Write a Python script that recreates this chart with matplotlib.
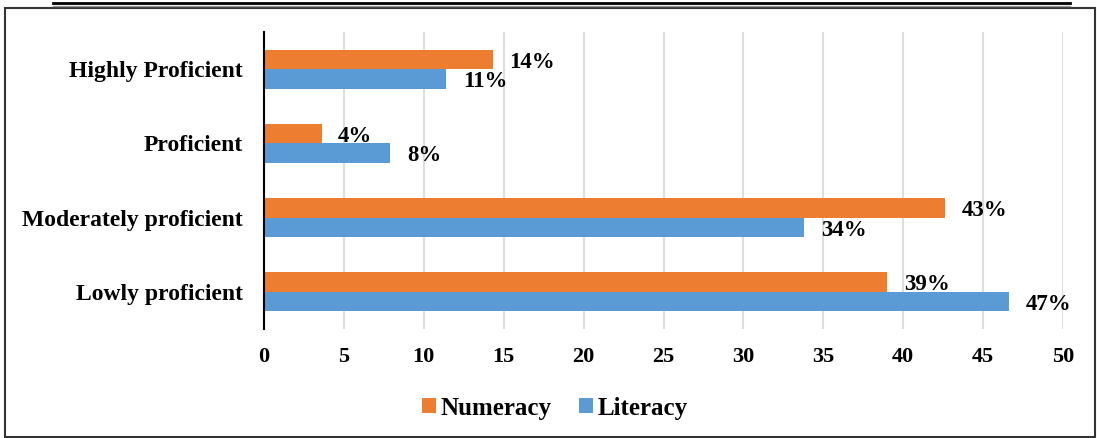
import matplotlib

matplotlib.use("Agg")

import matplotlib.pyplot as plt
import numpy as np
from matplotlib.lines import Line2D
from matplotlib.patches import Rectangle

categories = ["Highly Proficient", "Proficient", "Moderately proficient", "Lowly proficient"]
numeracy = [14.3, 3.6, 42.6, 39.0]
literacy = [11.4, 7.9, 33.8, 46.6]
x_ticks = [0, 5, 10, 15, 20, 25, 30, 35, 40, 45, 50]

ORANGE = "#ED7D31"
BLUE = "#5B9BD5"
W, H = 1097, 438

plt.rcParams["font.family"] = ["Liberation Serif", "DejaVu Serif"]
plt.rcParams["font.weight"] = "bold"

fig = plt.figure(figsize=(W / 100, H / 100), dpi=100)
ax = fig.add_axes([264 / W, 109 / H, 799 / W, 297 / H])

y = np.arange(len(categories))
bar_h = 0.262
b_num = ax.barh(y - bar_h / 2, numeracy, height=bar_h, color=ORANGE, label="Numeracy", zorder=3)
b_lit = ax.barh(y + bar_h / 2, literacy, height=bar_h, color=BLUE, label="Literacy", zorder=3)

for bars, vals in ((b_num, numeracy), (b_lit, literacy)):
    for bar, v in zip(bars, vals):
        ax.annotate(f"{v:.0f}%", (v, bar.get_y() + bar.get_height() / 2),
                    xytext=(12, -2), textcoords="offset points", ha="left", va="center",
                    fontsize=16.5, fontweight="bold")

ax.set_ylim(len(categories) - 0.5, -0.5)
ax.set_xlim(0, 50)
ax.set_yticks(y)
ax.set_yticklabels(categories, fontsize=17, fontweight="bold")
ax.set_xticks(x_ticks)
ax.set_xticklabels([str(t) for t in x_ticks], fontsize=16, fontweight="bold")
ax.tick_params(axis="both", length=0)
ax.tick_params(axis="x", pad=13)
ax.tick_params(axis="y", pad=15)
ax.grid(axis="x", color="#dedede", linewidth=1.5, zorder=0)
for side in ("top", "right", "bottom"):
    ax.spines[side].set_visible(False)
ax.spines["left"].set_linewidth(1.5)
ax.spines["left"].set_zorder(4)

fig.legend(handles=[b_num, b_lit], loc="center", bbox_to_anchor=(555 / W, 1 - 408 / H),
           ncol=2, frameon=False, prop={"size": 18, "weight": "bold"},
           handlelength=0.55, handleheight=0.55, handletextpad=0.2, columnspacing=1.1)

# outer frame and top rule
fig.patches.append(Rectangle((5 / W, 1 - 437 / H), 1090 / W, 429 / H, transform=fig.transFigure,
                             fill=False, edgecolor="#333333", linewidth=1.5))
fig.lines.append(Line2D([53 / W, 1070 / W], [1 - 3 / H, 1 - 3 / H], transform=fig.transFigure,
                        color="black", linewidth=2))
fig.lines.append(Line2D([53 / W, 1070 / W], [1 - 5.5 / H, 1 - 5.5 / H], transform=fig.transFigure,
                        color="#999999", linewidth=1))

fig.savefig("out.png", dpi=100)
